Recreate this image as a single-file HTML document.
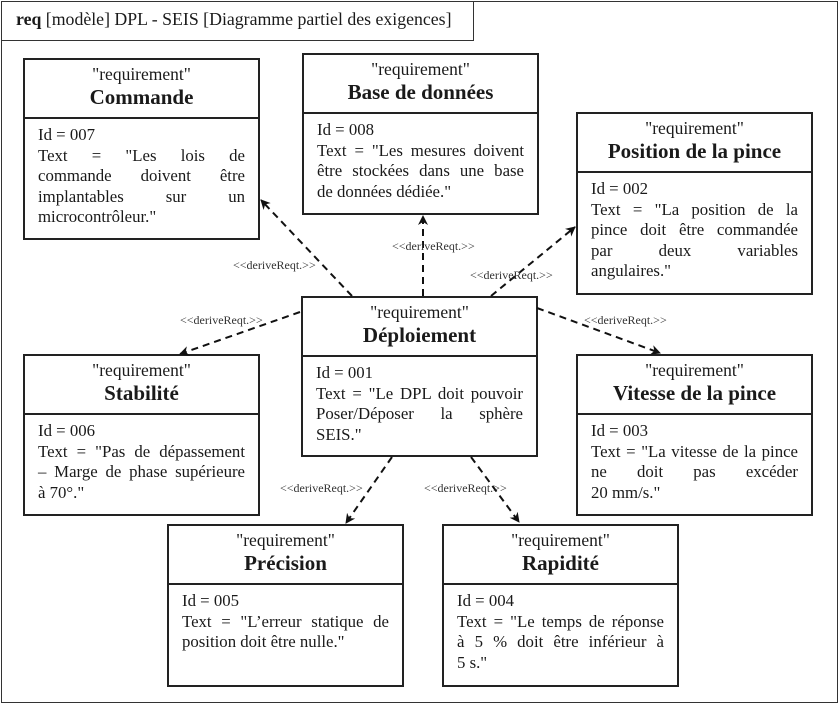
<!DOCTYPE html>
<html><head><meta charset="utf-8"><style>
*{margin:0;padding:0;box-sizing:border-box}
body{width:839px;height:704px;background:#fff;position:relative;overflow:hidden;font-family:"Liberation Serif",serif;color:#1a1a1a}
.frame{position:absolute;left:1px;top:1px;width:837px;height:702px;border:1.5px solid #333}
.tab{position:absolute;left:1px;top:1px;width:473px;height:40px;border:1.5px solid #333;font-size:17.8px;padding:7px 0 0 14px;white-space:nowrap}
.box{position:absolute;width:237px;border:2px solid #222;background:#fff}
.hd{border-bottom:2px solid #222;text-align:center;font-size:17.5px;line-height:20px;padding-top:4px}
.hd b{font-size:21px;display:block;line-height:27px}
.bd{font-size:16.8px;line-height:20.6px;padding:6px 13px 0 13px}
.bd div{white-space:nowrap}
.j{text-align:justify;text-align-last:justify}
svg{position:absolute;left:0;top:0}
.lbl{font-family:"Liberation Serif",serif;font-size:12px;fill:#333}
</style></head><body>
<div class="frame"></div>
<div class="tab"><b>req</b> [modèle] DPL - SEIS [Diagramme partiel des exigences]</div>

<div class="box" style="left:23px;top:58px;height:182px"><div class="hd" style="height:59px">"requirement"<b>Commande</b></div>
<div class="bd"><div>Id = 007</div><div class="j">Text = "Les lois de</div><div class="j">commande doivent être</div><div class="j">implantables sur un</div><div>microcontrôleur."</div></div></div>

<div class="box" style="left:302px;top:53px;height:162px"><div class="hd" style="height:59px">"requirement"<b>Base de données</b></div>
<div class="bd"><div>Id = 008</div><div class="j">Text = "Les mesures doivent</div><div class="j">être stockées dans une base</div><div>de données dédiée."</div></div></div>

<div class="box" style="left:576px;top:112px;height:183px"><div class="hd" style="height:59px">"requirement"<b>Position de la pince</b></div>
<div class="bd"><div>Id = 002</div><div class="j">Text = "La position de la</div><div class="j">pince doit être commandée</div><div class="j">par deux variables</div><div>angulaires."</div></div></div>

<div class="box" style="left:301px;top:296px;height:161px"><div class="hd" style="height:59px">"requirement"<b>Déploiement</b></div>
<div class="bd"><div>Id = 001</div><div class="j">Text = "Le DPL doit pouvoir</div><div class="j">Poser/Déposer la sphère</div><div>SEIS."</div></div></div>

<div class="box" style="left:23px;top:354px;height:162px"><div class="hd" style="height:59px">"requirement"<b>Stabilité</b></div>
<div class="bd"><div>Id = 006</div><div class="j">Text = "Pas de dépassement</div><div class="j">– Marge de phase supérieure</div><div>à 70°."</div></div></div>

<div class="box" style="left:576px;top:354px;height:162px"><div class="hd" style="height:59px">"requirement"<b>Vitesse de la pince</b></div>
<div class="bd"><div>Id = 003</div><div class="j">Text = "La vitesse de la pince</div><div class="j">ne doit pas excéder</div><div>20 mm/s."</div></div></div>

<div class="box" style="left:167px;top:524px;height:163px"><div class="hd" style="height:59px">"requirement"<b>Précision</b></div>
<div class="bd"><div>Id = 005</div><div class="j">Text = "L’erreur statique de</div><div>position doit être nulle."</div></div></div>

<div class="box" style="left:442px;top:524px;height:163px"><div class="hd" style="height:59px">"requirement"<b>Rapidité</b></div>
<div class="bd"><div>Id = 004</div><div class="j">Text = "Le temps de réponse</div><div class="j">à 5 % doit être inférieur à</div><div>5 s."</div></div></div>

<svg width="839" height="704">
<defs><marker id="a" markerWidth="10" markerHeight="10" refX="9" refY="5" orient="auto" markerUnits="userSpaceOnUse"><path d="M0,0 L10,5 L0,10 L3,5 Z" fill="#111"/></marker></defs>
<g stroke="#111" stroke-width="2" stroke-dasharray="7,5" fill="none" marker-end="url(#a)">
<line x1="352" y1="296" x2="261" y2="200"/>
<line x1="423" y1="296" x2="423" y2="216"/>
<line x1="491" y1="296" x2="575" y2="227"/>
<line x1="300" y1="312" x2="180" y2="354"/>
<line x1="537" y1="308" x2="660" y2="353"/>
<line x1="392" y1="457" x2="346" y2="523"/>
<line x1="471" y1="457" x2="519" y2="522"/>
</g>
<g class="lbl">
<text x="233" y="269">&lt;&lt;deriveReqt.&gt;&gt;</text>
<text x="392" y="250">&lt;&lt;deriveReqt.&gt;&gt;</text>
<text x="470" y="279">&lt;&lt;deriveReqt.&gt;&gt;</text>
<text x="180" y="324">&lt;&lt;deriveReqt.&gt;&gt;</text>
<text x="584" y="324">&lt;&lt;deriveReqt.&gt;&gt;</text>
<text x="280" y="492">&lt;&lt;deriveReqt.&gt;&gt;</text>
<text x="424" y="492">&lt;&lt;deriveReqt.&gt;&gt;</text>
</g>
</svg>
</body></html>
